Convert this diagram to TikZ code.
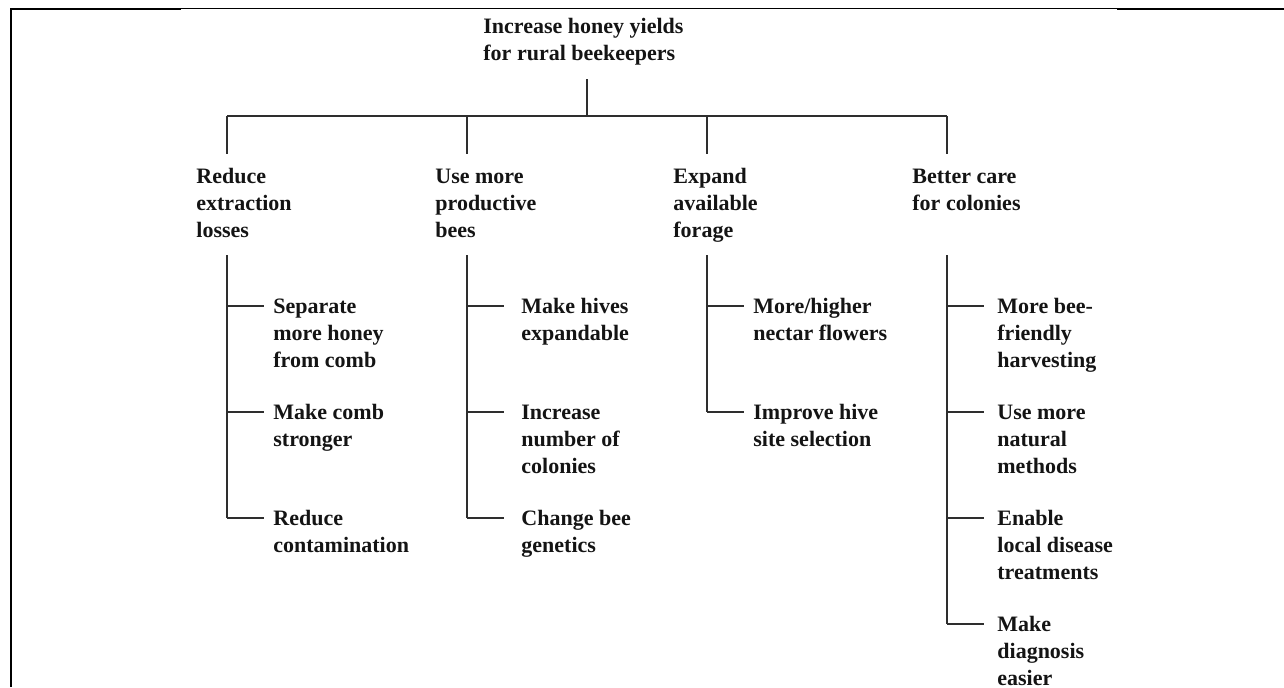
\documentclass[tikz,border=0pt]{standalone}
\usepackage{fontspec}
\setmainfont{Liberation Serif}
\begin{document}
\begin{tikzpicture}[x=0.5pt,y=-0.5pt,
  % multi-line labels are placed by the baseline of their last line
  lbl/.style={font=\bfseries\fontsize{11}{13.5}\selectfont, align=left,
              anchor=base west, inner sep=0pt, text=black!92},
  link/.style={draw=black!82, line width=0.8pt},
  rule/.style={draw=black, line width=1pt}]
\useasboundingbox (0,0) rectangle (1284,687);

% page frame: left edge and top rule
\draw[rule] (10.5,687) -- (10.5,9) -- (181,9);
\draw[draw=black, line width=0.5pt] (181,8.5) -- (1117,8.5);
\draw[rule] (1117,9) -- (1284,9);

% goal
\node[lbl] (root) at (483,60) {Increase honey yields\\for rural beekeepers};

% first-level strategies
\node[lbl] (c1) at (196,237) {Reduce\\extraction\\losses};
\node[lbl] (c2) at (435,237) {Use more\\productive\\bees};
\node[lbl] (c3) at (673,237) {Expand\\available\\forage};
\node[lbl] (c4) at (912,210) {Better care\\for colonies};

% second-level actions
\node[lbl] (a1) at (273,367) {Separate\\more honey\\from comb};
\node[lbl] (a2) at (273,446) {Make comb\\stronger};
\node[lbl] (a3) at (273,552) {Reduce\\contamination};

\node[lbl] (b1) at (521,340) {Make hives\\expandable};
\node[lbl] (b2) at (521,473) {Increase\\number of\\colonies};
\node[lbl] (b3) at (521,552) {Change bee\\genetics};

\node[lbl] (e1) at (753,340) {More/higher\\nectar flowers};
\node[lbl] (e2) at (753,446) {Improve hive\\site selection};

\node[lbl] (f1) at (997,367) {More bee-\\friendly\\harvesting};
\node[lbl] (f2) at (997,473) {Use more\\natural\\methods};
\node[lbl] (f3) at (997,579) {Enable\\local disease\\treatments};
\node[lbl] (f4) at (997,685) {Make\\diagnosis\\easier};

% trunk and crossbar
\coordinate (rootfoot) at (587,79);
\coordinate (hub) at (587,116);
\draw[link] (rootfoot) -- (hub);
\foreach \k/\x in {1/227,2/467,3/707,4/947}{
  \coordinate (bar\k) at (\x,116);
  \coordinate (drop\k) at (\x,154);
  \coordinate (spine\k) at (\x,255);
}
\draw[link] (bar1) -- (bar4);
\foreach \k in {1,2,3,4}{ \draw[link] (bar\k) -- (drop\k); }

% spines with ticks to the actions
\foreach \k/\x/\n in {1/227/3,2/467/3,3/707/2,4/947/4}{
  \foreach \i in {1,...,\n}{
    \coordinate (tick\k-\i) at (\x,{306+106*(\i-1)});
    \coordinate (tip\k-\i) at ({\x+37},{306+106*(\i-1)});
    \draw[link] (tick\k-\i) -- (tip\k-\i);
  }
  \draw[link] (spine\k) -- (tick\k-\n);
}
\end{tikzpicture}
\end{document}
